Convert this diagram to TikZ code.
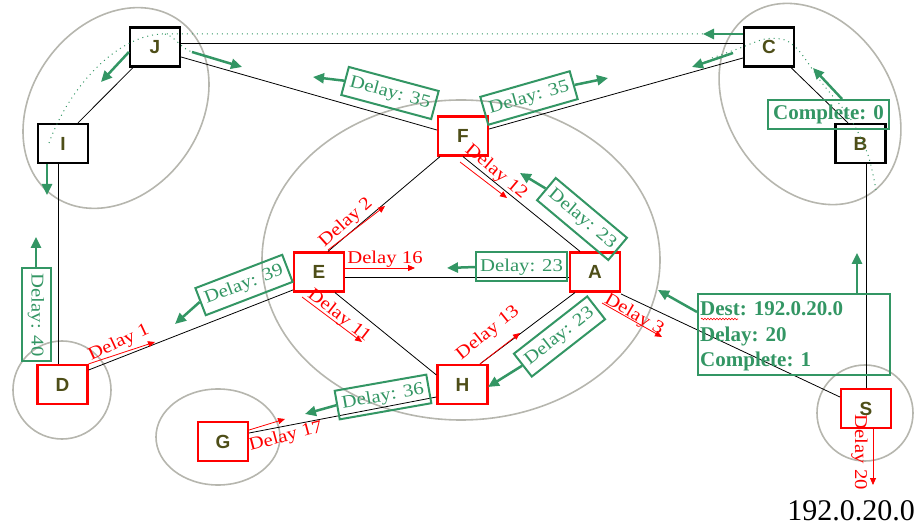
\documentclass[tikz,border=0pt]{standalone}
\usepackage{fontspec}
\usepackage{graphicx}
\setmainfont{Liberation Serif}
\newfontfamily\routerfont{Liberation Sans}
\usetikzlibrary{arrows.meta,decorations.pathmorphing}
\definecolor{grn}{RGB}{51,150,100}
\definecolor{zonegray}{RGB}{182,182,174}
\definecolor{nodetxt}{RGB}{78,78,24}
\newcommand{\wide}[1]{\scalebox{1.15}[1]{#1}}
\tikzset{
  router/.style={draw, rectangle, line width=2.2pt, minimum width=50pt, minimum height=39pt,
    inner sep=0pt, font=\routerfont\bfseries\fontsize{19}{19}\selectfont, text=nodetxt},
  rrouter/.style={router, draw=red},
  brouter/.style={router, draw=black},
  link/.style={line width=0.8pt, black},
  zone/.style={draw=zonegray, line width=1.6pt},
  garrow/.style={grn, line width=2.5pt, -{Triangle[length=11pt,width=10pt]}},
  rarrow/.style={red, line width=0.8pt, -{Triangle[length=7pt,width=6pt]}},
  gbox/.style={draw=grn, line width=2pt, text=grn, font=\fontsize{18}{18}\selectfont,
    inner xsep=4pt, minimum height=29pt, minimum width=93pt},
  rlab/.style={text=red, font=\fontsize{18}{18}\selectfont, inner sep=0pt},
  gdot/.style={grn, line width=1pt, dash pattern=on 1pt off 4pt},
}
\begin{document}
\begin{tikzpicture}[x=1pt,y=-1pt]
\useasboundingbox (0,0) rectangle (924,526);
% zones
\draw[zone, rotate around={54:(116,108)}] (116,108) ellipse [x radius=108pt, y radius=84pt];
\draw[zone, rotate around={-56:(810,104)}] (810,104) ellipse [x radius=108pt, y radius=82pt];
\draw[zone] (461,260) ellipse [x radius=199pt, y radius=160pt];
\draw[zone] (62,390) circle [radius=49pt];
\draw[zone] (218,437) ellipse [x radius=62pt, y radius=48pt];
\draw[zone] (865,413) circle [radius=48pt];
% routers
\node[brouter] (J) at (155,47) {J};
\node[brouter] (I) at (63,143.5) {I};
\node[brouter] (C) at (769,47) {C};
\node[brouter] (B) at (860.5,143.5) {B};
\node[rrouter] (F) at (463,136) {F};
\node[rrouter] (E) at (319,272) {E};
\node[rrouter] (A) at (595,272) {A};
\node[rrouter] (H) at (462.5,384.5) {H};
\node[rrouter] (D) at (62.5,384.5) {D};
\node[rrouter] (G) at (223,441.5) {G};
\node[rrouter] (S) at (866,408.5) {S};
% links
\draw[link] (J.east |- 0,43) -- (C.west |- 0,43);
\draw[link] (J.east |- 0,57) -- (F.west |- 0,130);
\draw[link] (C.west |- 0,58) -- (F.east |- 0,129);
\draw[link] (J.south -| 133,0) -- (I.north -| 78,0);
\draw[link] (I.south -| 58,0) -- (D.north -| 58,0);
\draw[link] (C.south -| 791,0) -- (B.north -| 848,0);
\draw[link] (B.south -| 866,0) -- (S.north -| 866,0);
\draw[link] (F.south -| 440,0) -- (E.north -| 328,0);
\draw[link] (F.south -| 463,0) -- (A.north -| 580,0);
\draw[link] (E.east |- 0,277) -- (A.west |- 0,277);
\draw[link] (E.south -| 335,0) -- (H.west |- 0,375);
\draw[link] (A.south -| 575,0) -- (H.north -| 480,0);
\draw[link] (A.east |- 0,294) -- (S.west |- 0,397);
\draw[link] (D.east |- 0,370) -- (E.west |- 0,290);
\draw[link] (H.west |- 0,397) -- (G.east |- 0,433);
% dotted paths
\draw[gdot] (49,143) .. controls (70,85) and (120,32) .. (167,34) -- (742,34);
\draw[gdot] (165,34) .. controls (175,36) and (180,48) .. (192,52);
\draw[gdot] plot[smooth] coordinates {(712,58) (740,48) (765,39) (785,40) (800,52) (822,83) (850,118) (868,155) (876,190)};
% green boxes
\node[gbox, rotate=-15] (b1) at (390,93) {\wide{Delay: 35}};
\node[gbox, rotate=16] (b2) at (529,98) {\wide{Delay: 35}};
\node[gbox, rotate=-40] (b3) at (582,219) {\wide{Delay: 23}};
\node[gbox, minimum width=87pt] (b4) at (521.5,267) {\wide{Delay: 23}};
\node[gbox, rotate=38] (b5) at (559.5,336.5) {\wide{Delay: 23}};
\node[gbox, rotate=21] (b6) at (244,285) {\wide{Delay: 39}};
\node[gbox, rotate=-90] (b7) at (36,315) {\wide{Delay: 40}};
\node[gbox, rotate=10] (b8) at (383,397) {\wide{Delay: 36}};
\node[gbox, font=\bfseries\fontsize{21}{21}\selectfont, minimum height=29pt, minimum width=121pt] (cmp) at (828.5,114.5) {Complete: 0};
\node[draw=grn, line width=2pt, minimum width=192pt, minimum height=81pt, anchor=north west] (dest) at (697,293) {};
\node[text=grn, font=\bfseries\fontsize{21}{21}\selectfont, anchor=base west, inner sep=0pt] (d1) at (700,316) {Dest: 192.0.20.0};
\node[text=grn, font=\bfseries\fontsize{21}{21}\selectfont, anchor=base west, inner sep=0pt] (d2) at (700,342) {Delay: 20};
\node[text=grn, font=\bfseries\fontsize{21}{21}\selectfont, anchor=base west, inner sep=0pt] (d3) at (700,367) {Complete: 1};
\draw[red, line width=0.6pt, decorate, decoration={snake, amplitude=0.8pt, segment length=3pt}] (701,319) -- (738,319);
% green arrow ends
\coordinate (g1) at (101,82);
\coordinate (g2s) at (192,52);
\coordinate (g2) at (242,67);
\coordinate (g3) at (47,195);
\coordinate (g4) at (703,34);
\coordinate (g5s) at (733,53);
\coordinate (g5) at (692,67);
\coordinate (g6) at (813,68);
\coordinate (g7) at (313,77);
\coordinate (g8) at (608,78);
\coordinate (g9) at (520,173);
\coordinate (g10) at (447,268);
\coordinate (g11) at (488,387);
\coordinate (g12) at (175,324);
\coordinate (g13) at (36,237);
\coordinate (g14) at (305,414);
\coordinate (g15) at (658,290);
\coordinate (g16) at (857,253);
\draw[garrow] (J.west |- 0,52) -- (g1);
\draw[garrow] (g2s) -- (g2);
\draw[garrow] (I.south -| 47,0) -- (g3);
\draw[garrow] (C.west |- 0,34) -- (g4);
\draw[garrow] (g5s) -- (g5);
\draw[garrow] (cmp.north -| 842,0) -- (g6);
\draw[garrow] (b1.west) -- (g7);
\draw[garrow] (b2.east) -- (g8);
\draw[garrow] (b3.west) -- (g9);
\draw[garrow] (b4.west) -- (g10);
\draw[garrow] (b5.west) -- (g11);
\draw[garrow] (b6.west) -- (g12);
\draw[garrow] (b7.west) -- (g13);
\draw[garrow] (b8.west) -- (g14);
\draw[garrow] (dest.west |- 0,312) -- (g15);
\draw[garrow] (dest.north -| 857,0) -- (g16);
% red labels
\node[rlab, rotate=42] (l2) at (346,223) {\wide{Delay 2}};
\node[rlab, rotate=-40] (l12) at (496,172) {\wide{Delay 12}};
\node[rlab] (l16) at (385,259) {\wide{Delay 16}};
\node[rlab, rotate=-38] (l11) at (339,316) {\wide{Delay 11}};
\node[rlab, rotate=39] (l13) at (488,333) {\wide{Delay 13}};
\node[rlab, rotate=-30] (l3) at (634,315) {\wide{Delay 3}};
\node[rlab, rotate=25] (l1) at (119,343) {\wide{Delay 1}};
\node[rlab, rotate=15] (l17) at (286,437) {\wide{Delay 17}};
\node[rlab, rotate=-90] (l20) at (859.5,452.5) {\wide{Delay 20}};
% red arrows
\coordinate (r2s) at (328,250); \coordinate (r2) at (385,206);
\coordinate (r12s) at (460,162); \coordinate (r12) at (507,198);
\coordinate (r16) at (415,268);
\coordinate (r11s) at (302,297); \coordinate (r11) at (362,342);
\coordinate (r13) at (520,333);
\coordinate (r3s) at (602,303); \coordinate (r3) at (662,337);
\coordinate (r1) at (155,342);
\coordinate (r17) at (285,419);
\coordinate (r20) at (873,485);
\draw[rarrow] (r2s) -- (r2);
\draw[rarrow] (r12s) -- (r12);
\draw[rarrow] (E.east |- 0,268) -- (r16);
\draw[rarrow] (r11s) -- (r11);
\draw[rarrow] (H.north -| 480,0) -- (r13);
\draw[rarrow] (r3s) -- (r3);
\draw[rarrow] (D.north east) -- (r1);
\draw[rarrow] (G.east |- 0,430) -- (r17);
\draw[rarrow] (S.south -| 873,0) -- (r20);
% destination
\node[font=\fontsize{30}{30}\selectfont, inner sep=0pt] (ip) at (851,511) {192.0.20.0};
\end{tikzpicture}
\end{document}
